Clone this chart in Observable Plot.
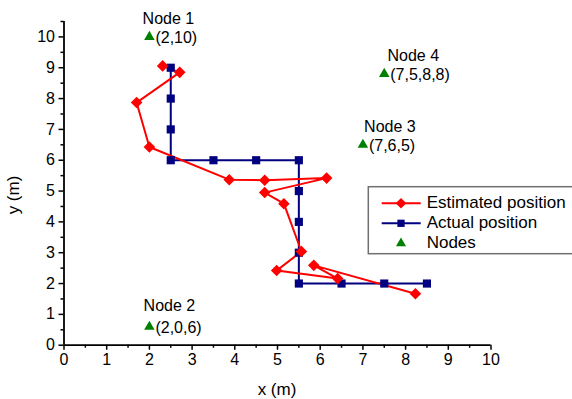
<!DOCTYPE html>
<html><head><meta charset="utf-8">
<script src="https://cdn.jsdelivr.net/npm/d3@7"></script>
<script src="https://cdn.jsdelivr.net/npm/@observablehq/plot@0.6"></script>
<style>
body{margin:0;background:#fff}
svg{font-family:Arial,"Liberation Sans",sans-serif;overflow:hidden}
</style>
</head><body><div id="chart"></div>
<script>
// Estimated positions (red diamonds), in path order
const estX = [2.31, 2.71, 1.70, 2.00, 3.87, 4.70, 6.15, 4.70, 5.15, 5.56, 4.98, 6.41, 5.85, 8.23];
const estY = [9.06, 8.85, 7.87, 6.43, 5.37, 5.35, 5.42, 4.95, 4.59, 3.04, 2.42, 2.16, 2.59, 1.67];
// Actual positions (navy squares)
const actX = [2.5, 2.5, 2.5, 2.5, 3.5, 4.5, 5.5, 5.5, 5.5, 5.5, 5.5, 6.5, 7.5, 8.5];
const actY = [9, 8, 7, 6, 6, 6, 6, 5, 4, 3, 2, 2, 2, 2];
// Nodes (green triangles)
const nodeNames = ["Node 1", "Node 2", "Node 3", "Node 4"];
const nodeX = [2, 2, 7, 7.5];
const nodeY = [10, 0.6, 6.5, 8.8];
const nodeCoords = ["(2,10)", "(2,0,6)", "(7,6,5)", "(7,5,8,8)"];
// Ticks
const xTicks = d3.range(0, 11);
const yTicks = d3.range(0, 11);
const xMinor = d3.range(0.5, 10, 1);
const yMinor = d3.range(0.5, 10.6, 1);
const legendLabels = ["Estimated position", "Actual position", "Nodes"];

const est = estX.map((x, i) => ({x, y: estY[i]}));
const act = actX.map((x, i) => ({x, y: actY[i]}));
const nodes = nodeX.map((x, i) => ({x, y: nodeY[i], name: nodeNames[i], coord: nodeCoords[i]}));

const RED = "#ff0000", NAVY = "#000080", GREEN = "#008000";
const nameDx = [19, 20, 27, 29];
const nameDy = [-18, -21, -18, -18];

const plot = Plot.plot({
  width: 572, height: 399,
  marginLeft: 63.5, marginRight: 81.5, marginTop: 21, marginBottom: 54.3,
  x: {domain: [0, 10]},
  y: {domain: [0, 10.5]},
  style: {fontFamily: "Arial, 'Liberation Sans', sans-serif", background: "#fff"},
  marks: [
    Plot.axisX(xTicks, {tickSize: 5, tickPadding: 3, fontSize: 16, label: null, stroke: "#000", strokeWidth: 1.5, fill: "#000", strokeOpacity: 1}),
    Plot.axisX(xMinor, {tickSize: 3, tickFormat: () => "", label: null, stroke: "#000", strokeWidth: 1.5, strokeOpacity: 1}),
    Plot.axisY(yTicks, {tickSize: 5, tickPadding: 4, fontSize: 16, label: null, stroke: "#000", strokeWidth: 1.5, fill: "#000", strokeOpacity: 1}),
    Plot.axisY(yMinor, {tickSize: 3, tickFormat: () => "", label: null, stroke: "#000", strokeWidth: 1.5, strokeOpacity: 1}),
    Plot.ruleY([0], {stroke: "#000", strokeWidth: 1.8}),
    Plot.ruleX([0], {stroke: "#000", strokeWidth: 1.8}),
    Plot.line(act, {x: "x", y: "y", stroke: NAVY, strokeWidth: 2}),
    Plot.line(est, {x: "x", y: "y", stroke: RED, strokeWidth: 2}),
    Plot.dot(act, {x: "x", y: "y", symbol: "square", fill: NAVY, r: 4.6}),
    Plot.dot(est, {x: "x", y: "y", symbol: "diamond2", fill: RED, r: 5.2}),
    Plot.dot(nodes, {x: "x", y: "y", symbol: "triangle", fill: GREEN, r: 3.9}),
    Plot.text(nodes, {x: "x", y: "y", text: "coord", textAnchor: "start", dx: 6, dy: 1, fontSize: 16, fill: "#000"}),
    ...nodes.map((n, i) => Plot.text([n], {x: "x", y: "y", text: "name", textAnchor: "middle", dx: nameDx[i], dy: nameDy[i], fontSize: 16, fill: "#000"}))
  ]
});

const svg = d3.select(plot);
// axis titles
svg.append("text").attr("x", 277).attr("y", 391).attr("text-anchor", "middle").attr("dominant-baseline", "middle")
  .attr("font-size", 17).attr("fill", "#000").text("x (m)");
svg.append("text").attr("transform", "translate(15,195) rotate(-90)").attr("text-anchor", "middle").attr("dominant-baseline", "middle")
  .attr("font-size", 17).attr("fill", "#000").text("y (m)");

// legend
const lg = svg.append("g");
lg.append("rect").attr("x", 368.3).attr("y", 186.7).attr("width", 220).attr("height", 67)
  .attr("fill", "#fff").attr("stroke", "#707070").attr("stroke-width", 1.5);
const rows = [203.3, 223.3, 243.3];
const sym = [[d3.symbolDiamond2, 72, RED], [d3.symbolSquare, 53, NAVY], [d3.symbolTriangle, 44, GREEN]];
rows.forEach((y, i) => {
  if (i < 2) lg.append("line").attr("x1", 381.7).attr("x2", 420.7).attr("y1", y).attr("y2", y)
    .attr("stroke", sym[i][2]).attr("stroke-width", 2);
  lg.append("path").attr("transform", `translate(401,${y})`).attr("d", d3.symbol(sym[i][0], sym[i][1])()).attr("fill", sym[i][2]);
  lg.append("text").attr("x", 426.7).attr("y", y).attr("text-anchor", "start").attr("dominant-baseline", "middle").attr("font-size", 17)
    .attr("fill", "#000").text(legendLabels[i]);
});

document.getElementById("chart").appendChild(plot);
</script>
</body></html>
